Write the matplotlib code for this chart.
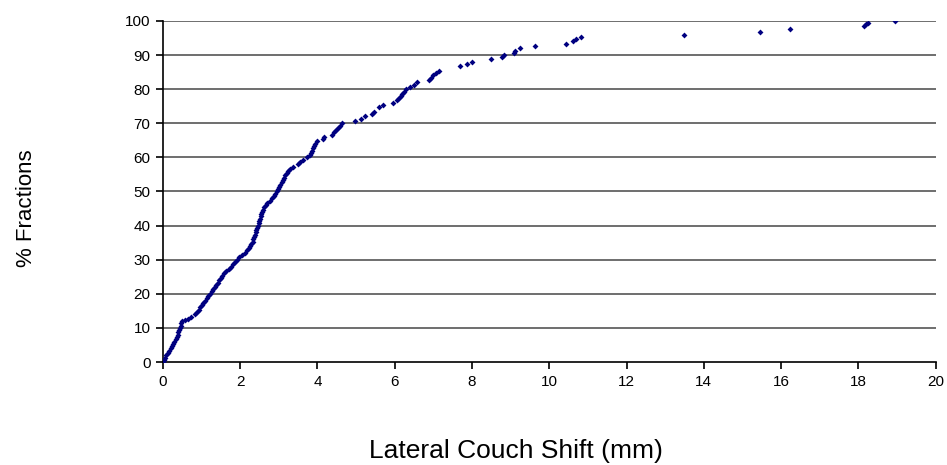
import matplotlib
matplotlib.use("Agg")
import matplotlib.pyplot as plt

# lateral couch shift (mm) and cumulative % of fractions
shift_mm = [
    0.00, 0.02, 0.05, 0.08, 0.12, 0.16, 0.20, 0.24, 0.27, 0.30, 0.33, 0.36, 0.38, 0.40,
    0.42, 0.44, 0.46, 0.47, 0.49,
    0.58, 0.66, 0.74, 0.82, 0.88, 0.93, 0.97, 1.00, 1.03, 1.08, 1.13, 1.17, 1.21,
    1.26, 1.31, 1.35, 1.38, 1.42, 1.46, 1.50, 1.54, 1.58, 1.63, 1.70, 1.76, 1.82, 1.87,
    1.92, 1.98,
    2.05, 2.12, 2.18, 2.22, 2.26, 2.29, 2.32, 2.34, 2.36, 2.38, 2.40, 2.42, 2.44, 2.46, 2.48,
    2.50, 2.52, 2.54, 2.55, 2.57, 2.59, 2.62, 2.66, 2.70, 2.76,
    2.82, 2.87, 2.91, 2.95, 2.98, 3.01, 3.04, 3.07, 3.10, 3.13, 3.16, 3.20, 3.24, 3.30, 3.36,
    3.50, 3.56, 3.62, 3.72, 3.80, 3.84, 3.87, 3.89, 3.91, 3.94, 3.98, 4.14,
    4.18, 4.38, 4.43, 4.48, 4.52, 4.58, 4.64,
    4.98, 5.12, 5.22, 5.40, 5.46, 5.60, 5.70, 5.96, 6.05, 6.10, 6.15, 6.18, 6.24, 6.30,
    6.40, 6.50, 6.58, 6.88, 6.95, 7.00, 7.08, 7.15,
    7.68, 7.88, 8.01, 8.50, 8.78, 8.84, 9.08, 9.12, 9.25, 9.62, 10.43, 10.62, 10.70, 10.82,
    13.49, 15.45, 16.22, 18.15, 18.20, 18.25, 18.94,
]
pct_fractions = [
    0.0, 0.7, 1.3, 2.0, 2.7, 3.3, 4.0, 4.7, 5.3, 6.0, 6.7, 7.3, 8.0, 8.7,
    9.3, 10.0, 10.7, 11.3, 12.0,
    12.3, 12.7, 13.3, 14.0, 14.7, 15.3, 16.0, 16.7, 17.3, 18.0, 18.7, 19.3, 20.0,
    20.7, 21.3, 22.0, 22.7, 23.3, 24.0, 24.7, 25.3, 26.0, 26.7, 27.3, 28.0, 28.7, 29.3,
    30.0, 30.7,
    31.3, 32.0, 32.7, 33.3, 34.0, 34.7, 35.3, 36.0, 36.7, 37.3, 38.0, 38.7, 39.3, 40.0, 40.7,
    41.3, 42.0, 42.7, 43.3, 44.0, 44.7, 45.3, 46.0, 46.7, 47.3,
    48.0, 48.7, 49.3, 50.0, 50.7, 51.3, 52.0, 52.7, 53.3, 54.0, 54.7, 55.3, 56.0, 56.7, 57.3,
    58.0, 58.7, 59.3, 60.0, 60.7, 61.3, 62.0, 62.7, 63.3, 64.0, 64.7, 65.3,
    66.0, 66.7, 67.3, 68.0, 68.7, 69.3, 70.0,
    70.7, 71.3, 72.0, 72.7, 73.3, 74.7, 75.3, 76.0, 76.7, 77.3, 78.0, 78.7, 79.3, 80.0,
    80.7, 81.3, 82.0, 82.7, 83.3, 84.0, 84.7, 85.3,
    86.7, 87.3, 88.0, 88.7, 89.3, 90.0, 90.7, 91.3, 92.0, 92.7, 93.3, 94.0, 94.7, 95.3,
    96.0, 96.7, 97.6, 98.4, 99.0, 99.4, 100.0,
]

xticks = list(range(0, 21, 2))
yticks = list(range(0, 101, 10))

plt.rcParams['font.family'] = ['Liberation Sans', 'DejaVu Sans']

fig = plt.figure(figsize=(9.47, 4.65), dpi=100)
ax = fig.add_axes([0.172, 0.2215, 0.816, 0.7335])

for y in yticks[1:]:
    ax.axhline(y, color='#6e6e6e', lw=1.4, zorder=1)

ax.plot(shift_mm, pct_fractions, 'D', color='#000080', ms=3.0, mew=0, zorder=3)

ax.set_xlim(0, 20)
ax.set_ylim(0, 100)
ax.set_xticks(xticks)
ax.set_yticks(yticks)
ax.tick_params(direction='out', length=5, width=1.2, labelsize=11, pad=4)

ax.spines['top'].set_visible(False)
ax.spines['right'].set_visible(False)
ax.spines['left'].set_linewidth(1.2)
ax.spines['bottom'].set_linewidth(1.2)

fig.text(0.545, 0.004, 'Lateral Couch Shift (mm)', ha='center', va='bottom', fontsize=19)
fig.text(0.028, 0.553, '% Fractions', ha='center', va='center', rotation=90, fontsize=16)

fig.savefig('out.png', dpi=100)
